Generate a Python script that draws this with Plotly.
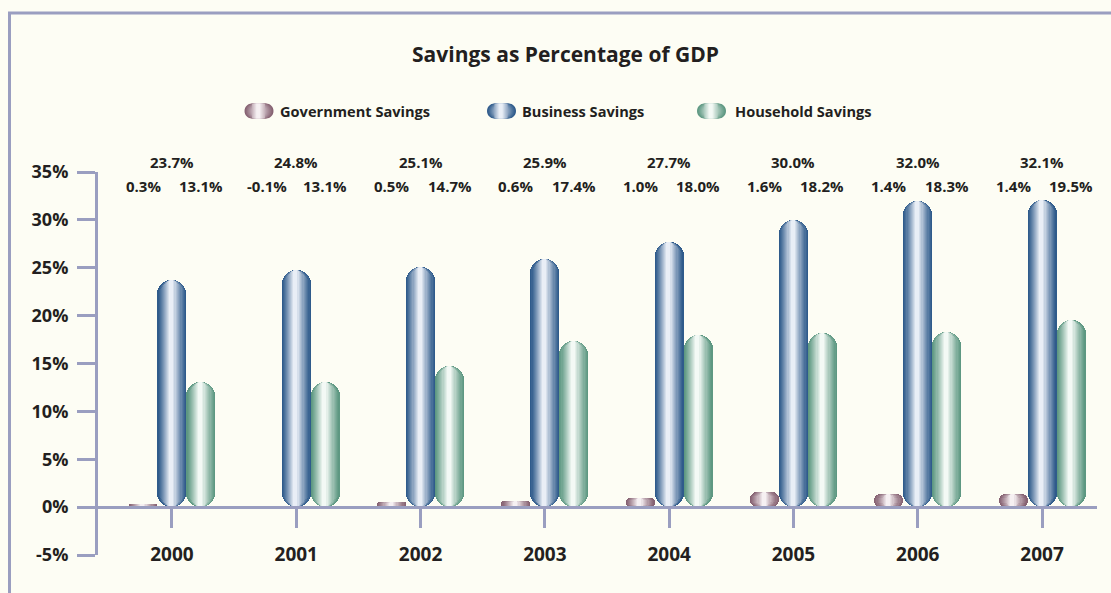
import plotly.graph_objects as go

# ---------------- data ----------------
years = ["2000", "2001", "2002", "2003", "2004", "2005", "2006", "2007"]
government = [0.3, -0.1, 0.5, 0.6, 1.0, 1.6, 1.4, 1.4]
business = [23.7, 24.8, 25.1, 25.9, 27.7, 30.0, 32.0, 32.1]
household = [13.1, 13.1, 14.7, 17.4, 18.0, 18.2, 18.3, 19.5]
series_names = ["Government Savings", "Business Savings", "Household Savings"]
y_tick_vals = [-5, 0, 5, 10, 15, 20, 25, 30, 35]
y_tick_text = ["-5%", "0%", "5%", "10%", "15%", "20%", "25%", "30%", "35%"]

# ---------------- style ----------------
BG = "#FDFDF4"
AXIS = "#9A9EC0"
TXT = "#231F20"
FONT = "Open Sans"
BAR_W = 0.233  # bar width in category units
L_PX, R_PX, T_PX, B_PX = 98, 14, 172, 38
W_PX, H_PX = 1111, 593
PLOT_W = W_PX - L_PX - R_PX
PLOT_H = H_PX - T_PX - B_PX

# cylinder shading: nested layers converging on a highlight slightly left of centre
N_LAYERS = 12
layers = [(0.44 * k / N_LAYERS, 1 - 0.50 * k / N_LAYERS) for k in range(N_LAYERS)]


def shade(dark, light, n=N_LAYERS, gamma=1.15):
    d = [int(dark[i:i + 2], 16) for i in (1, 3, 5)]
    l = [int(light[i:i + 2], 16) for i in (1, 3, 5)]
    out = []
    for k in range(n):
        t = (k / (n - 1)) ** gamma
        out.append("#" + "".join(f"{round(d[j] + (l[j] - d[j]) * t):02X}" for j in range(3)))
    return out


gov_colors = shade("#866272", "#F6F0F2")
bus_colors = shade("#2F5B8B", "#E9EEF6")
hh_colors = shade("#5E9882", "#F3F9F5")

x_idx = list(range(len(years)))
fig = go.Figure()


def add_cylinders(values, center, colors):
    zero_base = [0] * len(values)
    for (a, b), col in zip(layers, colors):
        width = (b - a) * BAR_W
        offset = center - BAR_W / 2 + a * BAR_W
        fig.add_bar(x=x_idx, y=values, base=zero_base, width=width, offset=offset,
                    marker=dict(color=col, cornerradius="50%", line=dict(width=0)),
                    hoverinfo="skip", showlegend=False)


add_cylinders(government, -BAR_W, gov_colors)
add_cylinders(business, 0.0, bus_colors)
add_cylinders(household, BAR_W, hh_colors)


def fmt(v):
    return f"{v:.1f}%"


def px_x(px):
    return (px - L_PX) / PLOT_W


def px_y(py):
    return (H_PX - B_PX - py) / PLOT_H


annotations = []
label_font = dict(family=FONT, size=15, color=TXT, weight="bold")
for i, v in zip(x_idx, business):
    annotations.append(dict(x=i, y=px_y(162), xref="x", yref="paper", text=fmt(v), showarrow=False,
                            xanchor="center", yanchor="middle", font=label_font))
for i, v in zip(x_idx, government):
    annotations.append(dict(x=i - BAR_W, y=px_y(186), xref="x", yref="paper", text=fmt(v),
                            showarrow=False, xanchor="center", yanchor="middle", font=label_font))
for i, v in zip(x_idx, household):
    annotations.append(dict(x=i + BAR_W, y=px_y(186), xref="x", yref="paper", text=fmt(v),
                            showarrow=False, xanchor="center", yanchor="middle", font=label_font))

shapes = []
# frame
shapes.append(dict(type="line", xref="paper", yref="paper", x0=px_x(8), x1=px_x(1115),
                   y0=px_y(13), y1=px_y(13), line=dict(color=AXIS, width=3)))
shapes.append(dict(type="line", xref="paper", yref="paper", x0=px_x(9.5), x1=px_x(9.5),
                   y0=px_y(12), y1=px_y(600), line=dict(color=AXIS, width=3)))


def pill_path(x0, x1, r):
    k = 0.5523 * r
    return (f"M{x0 + r},{-r} L{x1 - r},{-r} "
            f"C{x1 - r + k},{-r} {x1},{-k} {x1},0 "
            f"C{x1},{k} {x1 - r + k},{r} {x1 - r},{r} "
            f"L{x0 + r},{r} "
            f"C{x0 + r - k},{r} {x0},{k} {x0},0 "
            f"C{x0},{-k} {x0 + r - k},{-r} {x0 + r},{-r} Z")


icon_w, icon_r = 29, 7.5
legend_items = [(259, 278, gov_colors), (501.5, 520, bus_colors), (711.5, 733, hh_colors)]
for name, (cx, tx, cols) in zip(series_names, legend_items):
    for (a, b), col in zip(layers, cols):
        x0 = -icon_w / 2 + a * icon_w
        x1 = -icon_w / 2 + b * icon_w
        if x1 - x0 >= 2 * icon_r:
            path = pill_path(x0, x1, icon_r)
        else:
            path = f"M{x0},{-icon_r} L{x1},{-icon_r} L{x1},{icon_r} L{x0},{icon_r} Z"
        shapes.append(dict(type="path", xref="paper", yref="paper",
                           xsizemode="pixel", ysizemode="pixel",
                           xanchor=px_x(cx), yanchor=px_y(111), path=path,
                           fillcolor=col, line=dict(width=0)))
    annotations.append(dict(xref="paper", yref="paper", x=px_x(tx), y=px_y(111),
                            xanchor="left", yanchor="middle", text=name, showarrow=False,
                            font=dict(family=FONT, size=14.6, color=TXT, weight="bold")))

fig.update_layout(
    width=W_PX, height=H_PX,
    margin=dict(l=L_PX, r=R_PX, t=T_PX, b=B_PX),
    paper_bgcolor=BG, plot_bgcolor=BG,
    barmode="overlay", bargap=0,
    showlegend=False,
    title=dict(text="Savings as Percentage of GDP", x=565.5 / W_PX, xanchor="center",
               y=1 - 55 / H_PX, yanchor="middle", yref="container",
               font=dict(family=FONT, size=21, color=TXT, weight="bold")),
    shapes=shapes,
    annotations=annotations,
    xaxis=dict(range=[-0.595, 7.442], tickvals=x_idx, ticktext=years,
               anchor="free", position=5 / 40, showline=True, linecolor=AXIS, linewidth=3,
               ticks="outside", ticklen=19, tickwidth=3, tickcolor=AXIS,
               showgrid=False, zeroline=False, ticklabelstandoff=10,
               tickfont=dict(family=FONT, size=19, color=TXT, weight="bold")),
    yaxis=dict(range=[-5, 35], tickvals=y_tick_vals, ticktext=y_tick_text,
               showline=True, linecolor=AXIS, linewidth=3,
               ticks="outside", ticklen=18, tickwidth=3, tickcolor=AXIS,
               showgrid=False, zeroline=False, ticklabelstandoff=5,
               tickfont=dict(family=FONT, size=18, color=TXT, weight="bold")),
)

fig.write_html("out.html")
